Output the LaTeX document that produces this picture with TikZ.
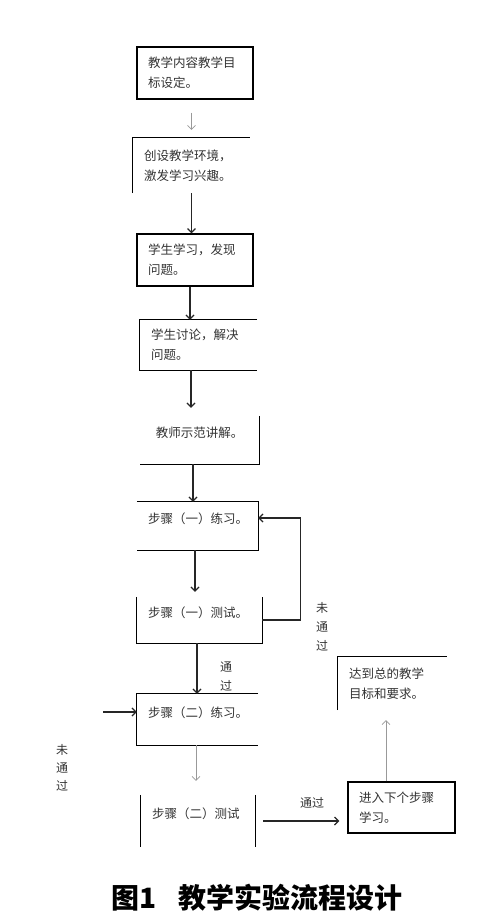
\documentclass[tikz,border=0pt]{standalone}
\usepackage{fontspec}
\newfontfamily\cjk{Noto Sans CJK SC}
\usetikzlibrary{positioning, arrows.meta, calc}

\begin{document}
\begin{tikzpicture}[
    x=1pt, y=-1pt,
    font=\cjk\fontsize{12.5}{20}\selectfont,
    >={Straight Barb[length=4pt,width=8pt]},
    box/.style   ={rectangle, inner xsep=11pt, inner ysep=0pt, align=left, text=black!80},
    single/.style={text height=9pt, text depth=14pt},
    framed/.style={draw=black, line width=1.3pt},
    edge/.style  ={line width=1.3pt, draw=black},
    arrow/.style ={->, line width=1.2pt, draw=black!85},
    faint/.style ={->, line width=0.6pt, draw=black!40},
    tag/.style   ={align=center, text=black!80, font=\cjk\fontsize{12}{19}\selectfont},
]

\useasboundingbox (0,0) rectangle (500,924);

%==================== MAIN COLUMN ====================

\node[box, framed, text width=94pt, minimum height=52pt] (goal)   at (195,73)    {教学内容教学目\\标设定。};
\node[box, text width=95pt, minimum height=55pt]         (scene)  at (191.5,165.5) {创设教学环境，\\激发学习兴趣。};
\node[box, framed, text width=94pt, minimum height=52pt] (study)  at (195,260)   {学生学习，发现\\问题。};
\node[box, text width=95pt, minimum height=50pt]         (discuss) at (198.5,345) {学生讨论，解决\\问题。};
\node[box, single, align=center, text width=97pt, minimum height=48pt] (demo) at (199.5,440) {教师示范讲解。};

% step one
\node[box, single, text width=99pt,  minimum height=48pt] (practA) at (197.5,526) {步骤（一）练习。};
\node[box, single, text width=103pt, minimum height=46pt] (testA)  at (199.5,620) {步骤（一）测试。};

% step two
\node[box, single, text width=99pt, minimum height=51pt] (practB) at (197.5,719.5) {步骤（二）练习。};
\node[box, single, text width=92pt, minimum height=52pt] (testB)  at (198,821)    {步骤（二）测试};

% right column
\node[box, framed, text width=85pt, minimum height=51pt] (next) at (401.5,807.5) {进入下个步骤\\学习。};
\node[box, text width=87pt, minimum height=53pt]         (aim)  at (392.5,683.5) {达到总的教学\\目标和要求。};

%==================== PARTIAL FRAMES ====================

\draw[edge] (scene.south west) -- (scene.north west) -- (scene.north east);
\draw[edge] (discuss.north east) -- (discuss.north west) -- (discuss.south west) -- (discuss.south east);
\draw[edge] (demo.north east) -- (demo.south east) -- (demo.south west);
\draw[edge] (practA.north west) -- (practA.north east) -- (practA.south east) -- (practA.south west);
\draw[edge] (testA.north west) -- (testA.south west) -- (testA.south east) -- (testA.north east);
\draw[edge] (practB.north east) -- (practB.north west) -- (practB.south west) -- (practB.south east);
\draw[edge] (testB.north west) -- (testB.south west);
\draw[edge] (testB.north east) -- (testB.south east);
\draw[edge] (aim.south west) -- (aim.north west) -- (aim.north east);

%==================== ARROWS ====================

\draw[faint, shorten <=13pt, shorten >=8pt] (goal.south -| scene.north) -- (scene.north);
\draw[arrow] (scene.south) -- (scene.south |- study.north);
\draw[arrow] ([xshift=-5pt]study.south) -- ([xshift=-5pt]study.south |- discuss.north);
\draw[arrow, shorten >=8pt] ([xshift=-7.5pt]discuss.south) -- ([xshift=-7.5pt]discuss.south |- demo.north);
\draw[arrow] ([xshift=-6.5pt]demo.south) -- ([xshift=-6.5pt]demo.south |- practA.north);
\draw[arrow, shorten >=5pt] ([xshift=-2.5pt]practA.south) -- ([xshift=-2.5pt]practA.south |- testA.north);
\draw[arrow] ([xshift=-2.5pt]testA.south) -- ([xshift=-2.5pt]testA.south |- practB.north);
\draw[faint, shorten >=14pt] ([xshift=-1.5pt]practB.south) -- ([xshift=-1.5pt]practB.south |- testB.north);

% loop back when the test fails
\draw[arrow] (testA.east) -- ++(38,0) |- ([yshift=8pt]practA.east);

% re-entry from the left
\coordinate (retry) at (103,712);
\draw[arrow] (retry) -- (retry -| practB.west);

% pass: go on
\draw[arrow, shorten <=8pt, shorten >=8pt] (testB.east) -- (testB.east -| next.west);
\draw[faint, shorten >=10pt] ([xshift=-15.5pt]next.north) -- ([xshift=-15.5pt]next.north |- aim.south);

%==================== LABELS ====================

\node[tag] (failA) at (322,627) {未\\通\\过};
\node[tag] (passA) at (226,676) {通\\过};
\node[tag, font=\cjk\fontsize{12}{18}\selectfont] (failB) at (62,768) {未\\通\\过};
\node[tag] (passB) at (312,803) {通过};

%==================== CAPTION ====================

\node[font=\cjk\bfseries\fontsize{28}{30}\selectfont] (caption) at (257,898) {图1\hspace{0.8em}教学实验流程设计};

\end{tikzpicture}
\end{document}
